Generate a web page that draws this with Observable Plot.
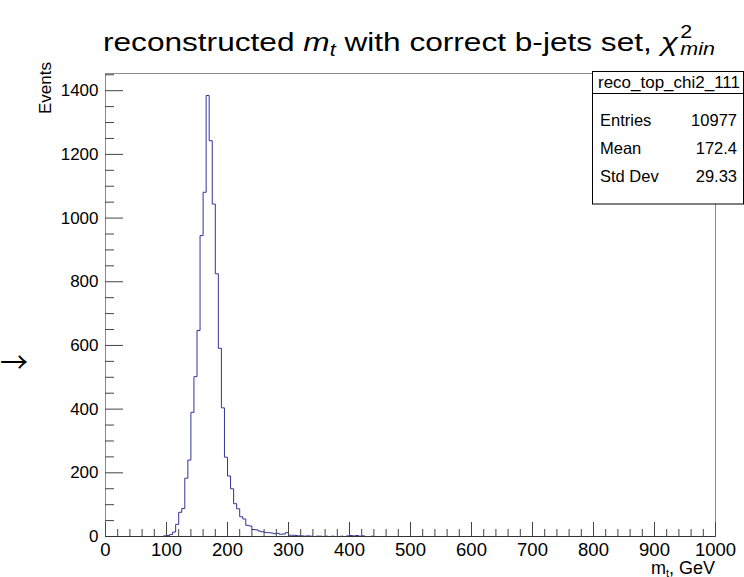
<!DOCTYPE html>
<html><head><meta charset="utf-8">
<script src="https://cdn.jsdelivr.net/npm/d3@7"></script>
<script src="https://cdn.jsdelivr.net/npm/@observablehq/plot@0.6"></script>
<style>
body{margin:0;background:#fff;}
#chart{width:744px;height:577px;}
</style></head><body><div id="chart"></div>
<script>
// ---- data ----
const binWidth = 5;             // GeV
const xDomain = [0, 1000];
const yDomain = [0, 1454];
// counts per 5 GeV bin, starting at 0 GeV (bins beyond the list are empty)
const counts = [
  0,0,0,0,0,0,0,0,0,0,          // 0-50
  0,0,0,0,0,0,0,0,0,2,          // 50-100
  3,6,14,38,76,88,183,240,390,502,      // 100-150
  647,945,1081,1385,1243,1044,825,591,404,249, // 150-200
  190,150,103,87,62,55,35,33,22,21,     // 200-250
  17,15,13,12,11,9,10,7,8,12,           // 250-300
  4,4,3,2,2,1,2,1,0,1,                  // 300-350
  1,0,1,0,1,0,0,1,0,2,                  // 350-400
  3,2,3,1,2,0,0,1,0,0                   // 400-450
];
const xMajorTicks = [0,100,200,300,400,500,600,700,800,900,1000];
const yMajorTicks = [0,200,400,600,800,1000,1200,1400];
const titleParts = ["reconstructed ", "m", "t", " with correct b-jets set, ", "χ", "2", "min"];
const xTitleParts = ["m", "t", ", GeV"];
const yTitle = "Events";
const statsName = "reco_top_chi2_111";
const statsLabels = ["Entries", "Mean", "Std Dev"];
const statsValues = ["10977", "172.4", "29.33"];

// ---- layout ----
const W = 744, H = 577, mL = 105, mR = 29, mT = 73, mB = 41;
const frameW = W - mL - mR, frameH = H - mT - mB;
const FONT = "'Liberation Sans', Arial, Helvetica, sans-serif";

const nBins = (xDomain[1] - xDomain[0]) / binWidth;
const hist = [];
for (let i = 0; i < nBins; i++) hist.push({x: xDomain[0] + i * binWidth, y: counts[i] || 0});
hist.push({x: xDomain[1], y: counts[nBins - 1] || 0});

const xMinorTicks = d3.range(0, 1001, 20).filter(v => v % 100 !== 0);
const yMinorTicks = d3.range(0, 1451, 50).filter(v => v % 200 !== 0);

const plot = Plot.plot({
  width: W, height: H,
  marginLeft: mL, marginRight: mR, marginTop: mT, marginBottom: mB,
  style: {fontFamily: FONT, fontSize: "17px", background: "white", color: "#000"},
  x: {domain: xDomain},
  y: {domain: yDomain},
  marks: [
    Plot.frame({stroke: "#8a8a8a"}),
    Plot.line(hist, {x: "x", y: "y", curve: "step-after", stroke: "#333399", strokeWidth: 1}),
    Plot.tickX(xMajorTicks, {x: d => d, insetTop: frameH - 14, stroke: "#444"}),
    Plot.tickX(xMinorTicks, {x: d => d, insetTop: frameH - 7, stroke: "#444"}),
    Plot.tickY(yMajorTicks, {y: d => d, insetRight: frameW - 18, stroke: "#444"}),
    Plot.tickY(yMinorTicks, {y: d => d, insetRight: frameW - 9, stroke: "#444"}),
    Plot.ruleY([0], {stroke: "#333"}),
    Plot.axisX({ticks: xMajorTicks, tickFormat: d3.format("d"), tickSize: 0, tickPadding: 6, label: null, fontSize: 18.5}),
    Plot.axisY({ticks: yMajorTicks, tickFormat: d3.format("d"), tickSize: 0, tickPadding: 7, label: null, fontSize: 17})
  ]
});
document.getElementById("chart").appendChild(plot);

const svg = d3.select(plot);

function mkText(g, t, x, y, size, italic, anchor) {
  return g.append("text").attr("x", x).attr("y", y)
    .attr("text-anchor", anchor || "start")
    .style("font-family", FONT).style("font-size", size + "px")
    .style("font-style", italic ? "italic" : "normal")
    .attr("fill", "#000").text(t);
}
function measure(t, size, italic) {
  const tmp = svg.append("g");
  const n = mkText(tmp, t, 0, 0, size, italic);
  const w = n.node().getComputedTextLength();
  tmp.remove();
  return w;
}

// title (horizontally stretched to the reference's wider typeface)
{
  const cx = 409, targetW = 612;
  const g = svg.append("g");
  const S = 26.5, s = 18;
  const parts = [
    {t: titleParts[0], size: S},
    {t: titleParts[1], size: S, italic: true},
    {t: titleParts[2], size: s, italic: true, dy: 5},
    {t: titleParts[3], size: S},
    {t: titleParts[4], size: S, italic: true},
    {t: titleParts[5], size: s, dy: -13},
    {t: titleParts[6], size: s, italic: true, dy: 4}
  ];
  const widths = parts.map(p => measure(p.t, p.size, p.italic));
  const total = widths[0] + widths[1] + widths[2] + widths[3] + widths[4] + 2 + Math.max(widths[5], widths[6]);
  let x = cx - total / 2;
  const y = 51;
  let stackX = 0;
  parts.forEach((p, i) => {
    let px = x;
    if (i === 5) stackX = x;
    if (i === 6) px = stackX;
    mkText(g, p.t, px, y + (p.dy || 0), p.size, p.italic);
    if (i === 4) x += widths[i] + 2;
    else if (i < 5) x += widths[i];
  });
  const k = targetW / total;
  g.attr("transform", `translate(${cx},0) scale(${k},1) translate(${-cx},0)`);
}

// x axis title, right aligned to frame right edge
{
  const g = svg.append("g");
  const parts = [
    {t: xTitleParts[0], size: 18},
    {t: xTitleParts[1], size: 11, dy: 3},
    {t: xTitleParts[2], size: 18}
  ];
  const widths = parts.map(p => measure(p.t, p.size, false));
  let x = (W - mR) - d3.sum(widths);
  parts.forEach((p, i) => {
    mkText(g, p.t, x, 574 + (p.dy || 0), p.size, false);
    x += widths[i];
  });
}

// y axis title
mkText(svg, yTitle, 0, 0, 17, false, "end")
  .attr("x", null).attr("y", null)
  .attr("transform", `translate(51,${mT - 11}) rotate(-90)`);

// stats box
{
  const g = svg.append("g");
  const bx = 592.5, by = 71.5, bw = 151, bh = 132.5;
  g.append("rect").attr("x", bx).attr("y", by).attr("width", bw).attr("height", bh)
    .attr("fill", "white").attr("stroke", "#000").attr("stroke-width", 1);
  g.append("line").attr("x1", bx).attr("x2", bx + bw).attr("y1", 93.5).attr("y2", 93.5).attr("stroke", "#000");
  mkText(g, statsName, 598, 88, 16.5).attr("textLength", 142).attr("lengthAdjust", "spacingAndGlyphs");
  const rowY = [126, 154, 182];
  statsLabels.forEach((lab, i) => {
    mkText(g, lab, 600, rowY[i], 16.5);
    mkText(g, statsValues[i], 737, rowY[i], 16.5, false, "end");
  });
}

// arrow at left
svg.append("text").attr("x", 0).attr("y", 373).attr("text-anchor", "start")
  .style("font-family", "'Noto Sans CJK JP', 'DejaVu Sans', sans-serif").style("font-size", "28px").attr("fill", "#000")
  .text("→");
</script></body></html>
